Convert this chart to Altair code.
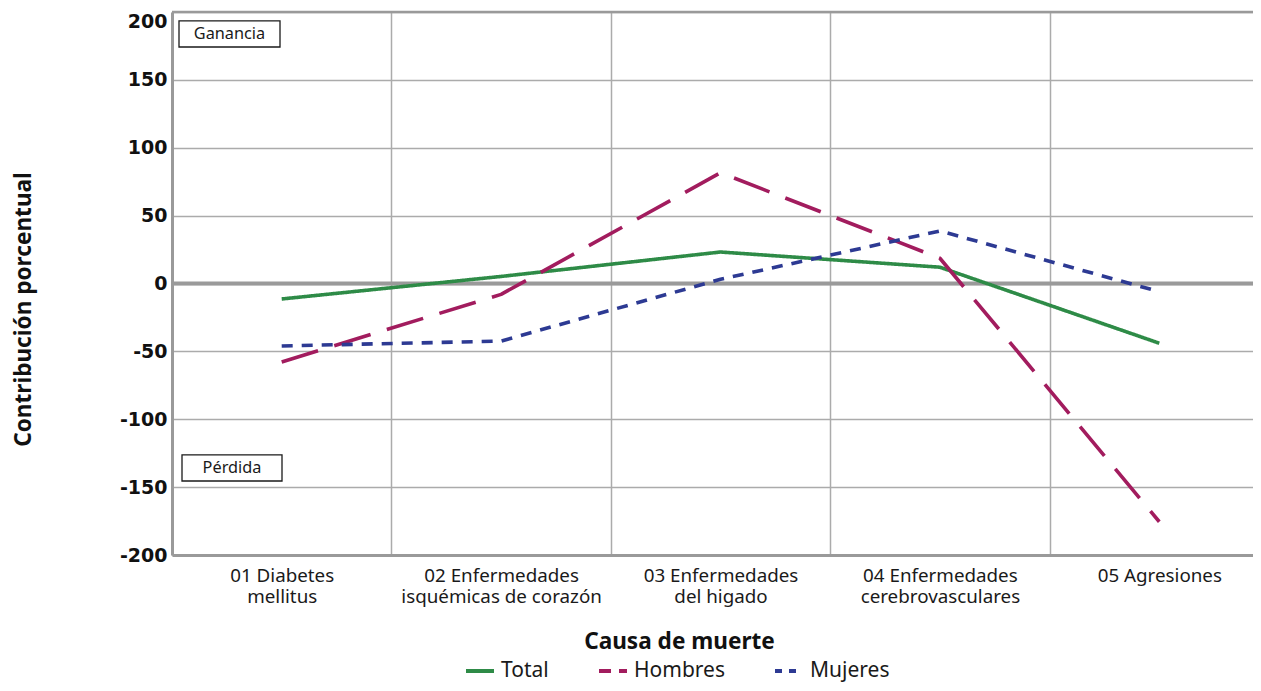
import altair as alt
import pandas as pd

# ---- data ----
categorias = [
    "01 Diabetes\nmellitus",
    "02 Enfermedades\nisquémicas de corazón",
    "03 Enfermedades\ndel higado",
    "04 Enfermedades\ncerebrovasculares",
    "05 Agresiones",
]
series = ["Total", "Hombres", "Mujeres"]
total = [-11.4, 5.2, 23.2, 12.0, -44.0]
hombres = [-57.8, -8.0, 81.6, 18.6, -175.5]
mujeres = [-46.0, -42.4, 3.1, 38.7, -6.0]

colores = ["#2e8b47", "#a21c5e", "#2d3a93"]
dash_lineas = [[1, 0], [38, 17], [11, 9]]
dash_leyenda = [[1, 0], [12, 8], [7, 7]]

FONT = "Noto Sans"
NUMFONT = "DejaVu Sans"

rows = []
for s, vals in zip(series, [total, hombres, mujeres]):
    for c, v in zip(categorias, vals):
        rows.append({"Causa": c, "Serie": s, "Valor": v})
df = pd.DataFrame(rows)

x_enc = alt.X(
    "Causa:N",
    sort=categorias,
    bandPosition=0.5,
    scale=alt.Scale(type="band", paddingInner=0, paddingOuter=0),
    axis=alt.Axis(
        title="Causa de muerte",
        labelAngle=0,
        tickBand="extent",
        ticks=False,
        grid=True,
        gridColor="#ababab",
        gridWidth=1.5,
        domainColor="#9a9a9a",
        domainWidth=3,
        labelFont=FONT,
        labelFontSize=18.8,
        labelColor="#1a1a1a",
        labelPadding=11,
        labelLineHeight=21,
        labelLimit=320,
        labelExpr="split(datum.label, '\\n')",
        titleFont=FONT,
        titleFontSize=22.6,
        titleFontWeight="bold",
        titleColor="#111111",
        titleX=507,
        titleY=86,
        titleBaseline="middle",
        titleAlign="center",
    ),
)

y_scale = alt.Scale(domain=[-200, 200], nice=False, zero=False)
y_enc = alt.Y(
    "Valor:Q",
    scale=y_scale,
    axis=alt.Axis(
        title="Contribución porcentual",
        values=list(range(-200, 201, 50)),
        ticks=False,
        grid=True,
        gridColor="#ababab",
        gridWidth=1.5,
        domainColor="#9a9a9a",
        domainWidth=3,
        labelFont=NUMFONT,
        labelFontSize=19,
        labelFontWeight="bold",
        labelColor="#111111",
        labelPadding=5,
        labelExpr="datum.value + ''",
        labelBaseline={"condition": {"test": "datum.value == 200", "value": "top"}, "value": "middle"},
        titleFont=FONT,
        titleFontSize=22.6,
        titleFontWeight="bold",
        titleColor="#111111",
        titleX=-149,
        titleY=297,
        titleAngle=270,
        titleAlign="center",
        titleBaseline="middle",
    ),
)

lineas = alt.Chart(df).mark_line(strokeWidth=3.6, strokeCap="butt", strokeJoin="round").encode(
    x=x_enc,
    y=y_enc,
    color=alt.Color("Serie:N", scale=alt.Scale(domain=series, range=colores), legend=None),
    strokeDash=alt.StrokeDash("Serie:N", scale=alt.Scale(domain=series, range=dash_lineas), legend=None),
)

# legend-only layer: one point per series draws no visible line
df_ley = df[df["Causa"] == categorias[0]].rename(columns={"Serie": "Leyenda"})
leyenda = alt.Chart(df_ley).mark_line(strokeWidth=4, strokeCap="butt").encode(
    x=alt.X("Causa:N", sort=categorias, bandPosition=0.5),
    y=alt.Y("Valor:Q", scale=y_scale),
    color=alt.Color(
        "Leyenda:N",
        scale=alt.Scale(domain=series, range=colores),
        legend=alt.Legend(
            title=None,
            orient="none",
            direction="horizontal",
            legendX=292,
            legendY=643,
            symbolType="stroke",
            symbolSize=784,
            symbolStrokeWidth=4,
            labelFont=FONT,
            labelFontSize=21,
            labelColor="#1a1a1a",
            labelOffset=5,
            columnPadding=42,
        ),
    ),
    strokeDash=alt.StrokeDash(
        "Leyenda:N",
        scale=alt.Scale(domain=series, range=dash_leyenda),
        legend=alt.Legend(title=None, orient="none", direction="horizontal", legendX=292, legendY=643),
    ),
)

cero = alt.Chart(pd.DataFrame({"v": [0]})).mark_rule(color="#9a9a9a", strokeWidth=4).encode(
    y=alt.Y("v:Q", scale=y_scale)
)
borde = alt.Chart(pd.DataFrame({"v": [200]})).mark_rule(color="#9a9a9a", strokeWidth=2.5).encode(
    y=alt.Y("v:Q", scale=y_scale)
)

# annotation boxes
etiquetas = ["Ganancia", "Pérdida"]
caja_sup = [193.4, -126.3]
caja_inf = [174.2, -145.5]
texto_y = [184.0, -136.0]
caja_x0 = [7, 10]
caja_x1 = [108, 110]
df_cajas = pd.DataFrame(
    {"t": etiquetas, "y1": caja_sup, "y2": caja_inf, "ty": texto_y, "x0": caja_x0, "x1": caja_x1}
)
df_cajas["xc"] = (df_cajas["x0"] + df_cajas["x1"]) / 2

cajas = alt.Chart(df_cajas).mark_rect(fill="white", stroke="#1a1a1a", strokeWidth=1.3).encode(
    x=alt.X("x0:Q", scale=None),
    x2="x1:Q",
    y=alt.Y("y1:Q", scale=y_scale),
    y2="y2:Q",
)
textos = alt.Chart(df_cajas).mark_text(font=FONT, fontSize=16.3, color="#1a1a1a").encode(
    x=alt.X("xc:Q", scale=None),
    y=alt.Y("ty:Q", scale=y_scale),
    text="t:N",
)

chart = (
    alt.layer(borde, cero, lineas, leyenda, cajas, textos)
    .resolve_scale(color="independent", strokeDash="independent", x="shared")
    .properties(
        width=1097,
        height=543,
        padding={"left": 164, "top": 4, "right": -16, "bottom": 128},
        autosize=alt.AutoSizeParams(type="none"),
        background="white",
    )
    .configure_view(stroke=None)
)

chart.save("out.html", embed_options={"renderer": "svg", "actions": False})
